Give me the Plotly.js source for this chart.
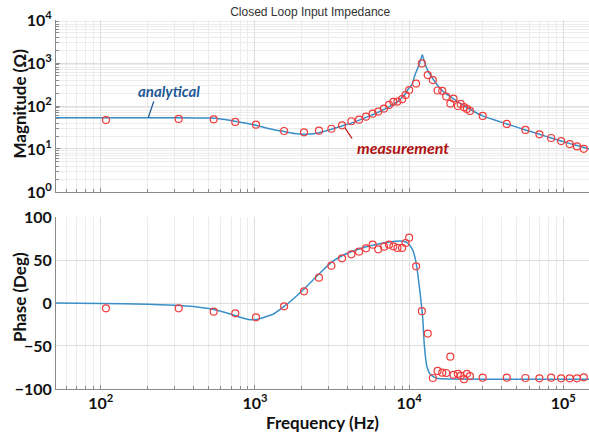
<!DOCTYPE html>
<html>
<head>
<meta charset="utf-8">
<script src="https://cdn.plot.ly/plotly-3.0.1.min.js"></script>
<style>html,body{margin:0;padding:0;background:#fff;}#chart{width:589px;height:437px;}</style>
</head>
<body>
<div id="chart"></div>
<script>
// ---- measured data (shared frequencies, Hz) ----
const measFreq = [108, 320, 540, 745, 1015, 1545, 2080, 2600, 3130, 3670, 4220, 4730, 5250, 5800, 6300, 6870, 7400, 7900, 8400, 9000, 9480, 10000, 11100, 12100, 13200, 14250, 15300, 16400, 17400, 18500, 19400, 20700, 21600, 22700, 23700, 24800, 30000, 43000, 56800, 70000, 83400, 96800, 110000, 122700, 135800];
const measMag = [47, 50, 49, 42.5, 36.7, 26.2, 24.4, 26.6, 29.6, 35.6, 44.2, 48.1, 56.5, 66.4, 74, 87, 106, 125, 127, 144, 179, 234, 333, 979, 524, 401, 229, 225, 166, 114, 149, 100, 112, 94, 85.5, 77, 58.7, 38.2, 27.7, 21.9, 18.0, 15.3, 13.0, 11.5, 10.1];
const measPhase = [-6.2, -6.2, -10.1, -12, -16.6, -3.9, 13.6, 29.4, 43.4, 52, 56.6, 59.7, 63.6, 67.8, 62.4, 65.5, 67.8, 65.9, 64, 64, 69.8, 76, 42.6, -9.5, -35.5, -87.2, -79, -81, -81.4, -62.4, -83.5, -82.4, -84.7, -88.6, -82.4, -85, -86.8, -86.8, -87.2, -87.6, -86.8, -87.6, -87.6, -87.6, -86.4];

// ---- analytical curve ----
const anaMagFreq = [50, 100, 200, 300, 400, 500, 600, 700, 800, 930, 1015, 1200, 1400, 1545, 1800, 2080, 2400, 2600, 3130, 3670, 4200, 4750, 5500, 6300, 7400, 8400, 8950, 9500, 9780, 10400, 10920, 11480, 11900, 12180, 12400, 12640, 13300, 14400, 15500, 17100, 18500, 20700, 24800, 30000, 43000, 56800, 70000, 83400, 96800, 122700, 150000];
const anaMag = [53.6, 53.6, 53.5, 53.2, 52.8, 52.3, 50, 46, 42, 38, 35.5, 30.5, 27, 25.5, 23, 22, 22.5, 23.9, 28.7, 34.4, 40, 47, 58, 71.5, 95, 126, 155, 195, 238, 311, 533, 833, 1200, 1560, 1250, 1000, 637, 407, 284, 199, 165, 125, 84, 58.8, 38.3, 27.7, 22, 18, 15.3, 12, 9.8];
const anaPhFreq = [50, 100, 200, 300, 400, 500, 600, 700, 800, 930, 1050, 1200, 1320, 1545, 1770, 2080, 2600, 3130, 3670, 4730, 5900, 7600, 9200, 9800, 10200, 10640, 11190, 11770, 12250, 12550, 13010, 13670, 15110, 20000, 50000, 150000];
const anaPhase = [0, -0.5, -1.5, -2.5, -4, -6.5, -9.5, -13, -16.5, -19.4, -18.8, -15.5, -12.8, -4, 4.7, 16.3, 33.7, 47.3, 55, 62.8, 67.4, 71.3, 71.7, 69.5, 66, 60, 43, 12, -18, -49, -73, -82.6, -87.6, -88.3, -88.6, -88.7];

const magTicks = [1, 10, 100, 1000, 10000];
const magTickText = ['10<sup>0</sup>', '10<sup>1</sup>', '10<sup>2</sup>', '10<sup>3</sup>', '10<sup>4</sup>'];
const freqTicks = [100, 1000, 10000, 100000];
const freqTickText = ['10<sup>2</sup>', '10<sup>3</sup>', '10<sup>4</sup>', '10<sup>5</sup>'];
const phaseTicks = [-100, -50, 0, 50, 100];

const lineColor = '#3a8fc8';
const markColor = '#f03c3c';

const traces = [
  {x: anaMagFreq, y: anaMag, xaxis: 'x', yaxis: 'y', mode: 'lines', line: {color: lineColor, width: 1.5, shape: 'spline', smoothing: 0.6}, hoverinfo: 'skip'},
  {x: measFreq, y: measMag, xaxis: 'x', yaxis: 'y', mode: 'markers', marker: {symbol: 'circle-open', size: 7, color: markColor, line: {width: 1.2, color: markColor}}},
  {x: anaPhFreq, y: anaPhase, xaxis: 'x2', yaxis: 'y2', mode: 'lines', line: {color: lineColor, width: 1.5, shape: 'spline', smoothing: 0.6}, hoverinfo: 'skip'},
  {x: measFreq, y: measPhase, xaxis: 'x2', yaxis: 'y2', mode: 'markers', marker: {symbol: 'circle-open', size: 7, color: markColor, line: {width: 1.2, color: markColor}}}
];

const tickFont = {family: 'Lato, Calibri, sans-serif', size: 16, color: '#111', weight: 'bold'};
const titleFont = {family: 'Lato, Calibri, sans-serif', size: 17, color: '#111', weight: 'bold'};
const xRange = [Math.log10(51.2), Math.log10(146800)];
const gridMajor = '#dedede';
const gridMinor = '#ececec';

function logX(extra) {
  return Object.assign({
    type: 'log', range: xRange, showgrid: true, gridcolor: gridMajor, gridwidth: 1,
    zeroline: false, showline: true, linecolor: '#8a8a8a', linewidth: 1,
    ticks: 'inside', ticklen: 4, tickcolor: '#8a8a8a',
    minor: {dtick: 'D1', showgrid: true, gridcolor: gridMinor, ticks: 'inside', ticklen: 3, tickcolor: '#8a8a8a'},
    tickfont: tickFont, fixedrange: true
  }, extra);
}

const layout = {
  width: 589, height: 437,
  margin: {l: 56, r: 0, t: 20, b: 48},
  paper_bgcolor: '#ffffff', plot_bgcolor: '#ffffff',
  showlegend: false,
  title: {text: 'Closed Loop Input Impedance', font: {family: 'Liberation Sans, Arial, sans-serif', size: 12, color: '#333'}, xref: 'paper', x: 0.477, xanchor: 'center', y: 0.972, yanchor: 'middle'},
  xaxis: logX({anchor: 'y', tickmode: 'array', tickvals: freqTicks, ticktext: freqTickText, showticklabels: false}),
  xaxis2: logX({anchor: 'y2', tickmode: 'array', tickvals: freqTicks, ticktext: freqTickText, title: {text: 'Frequency (Hz)', font: titleFont, standoff: 4}}),
  yaxis: {
    type: 'log', range: [0, 4], domain: [0.5339, 1], anchor: 'x',
    tickmode: 'array', tickvals: magTicks, ticktext: magTickText,
    showgrid: true, gridcolor: gridMajor, zeroline: false,
    showline: true, linecolor: '#8a8a8a', ticks: 'inside', ticklen: 4, tickcolor: '#8a8a8a',
    minor: {dtick: 'D1', showgrid: true, gridcolor: gridMinor, ticks: 'inside', ticklen: 3, tickcolor: '#8a8a8a'},
    tickfont: tickFont, fixedrange: true
  },
  yaxis2: {
    range: [-100, 100], domain: [0, 0.4661], anchor: 'x2',
    tickmode: 'array', tickvals: phaseTicks,
    showgrid: true, gridcolor: gridMajor, zeroline: false,
    showline: true, linecolor: '#8a8a8a', ticks: '',
    tickfont: tickFont, fixedrange: true
  },
  annotations: [
    {xref: 'paper', yref: 'paper', x: -0.0694, y: 0.7737, xanchor: 'center', yanchor: 'middle', textangle: -90, text: 'Magnitude (Ω)', showarrow: false, font: titleFont},
    {xref: 'paper', yref: 'paper', x: -0.0694, y: 0.2493, xanchor: 'center', yanchor: 'middle', textangle: -90, text: 'Phase (Deg)', showarrow: false, font: titleFont},
    {xref: 'x', yref: 'y', x: Math.log10(203), y: Math.log10(53), ax: 6, ay: -18, axref: 'pixel', ayref: 'pixel', text: '', showarrow: true, arrowhead: 0, arrowwidth: 1.3, arrowcolor: '#1f5a96', standoff: 0},
    {xref: 'x', yref: 'y', x: Math.log10(203), y: Math.log10(53), xshift: 21, yshift: 27, text: 'analytical', showarrow: false, font: {family: 'Lato, Calibri, sans-serif', size: 15, color: '#1f5a96', weight: 'bold', style: 'italic'}},
    {xref: 'x', yref: 'y', x: Math.log10(3840), y: Math.log10(30.8), ax: 8, ay: 12, axref: 'pixel', ayref: 'pixel', text: '', showarrow: true, arrowhead: 0, arrowwidth: 1.3, arrowcolor: '#c01010', standoff: 0},
    {xref: 'x', yref: 'y', x: Math.log10(3840), y: Math.log10(30.8), xshift: 58, yshift: -20, text: 'measurement', showarrow: false, font: {family: 'Lato, Calibri, sans-serif', size: 16, color: '#b01010', weight: 'bold', style: 'italic'}}
  ]
};

Plotly.newPlot('chart', traces, layout, {staticPlot: true, displayModeBar: false});
</script>
</body>
</html>
